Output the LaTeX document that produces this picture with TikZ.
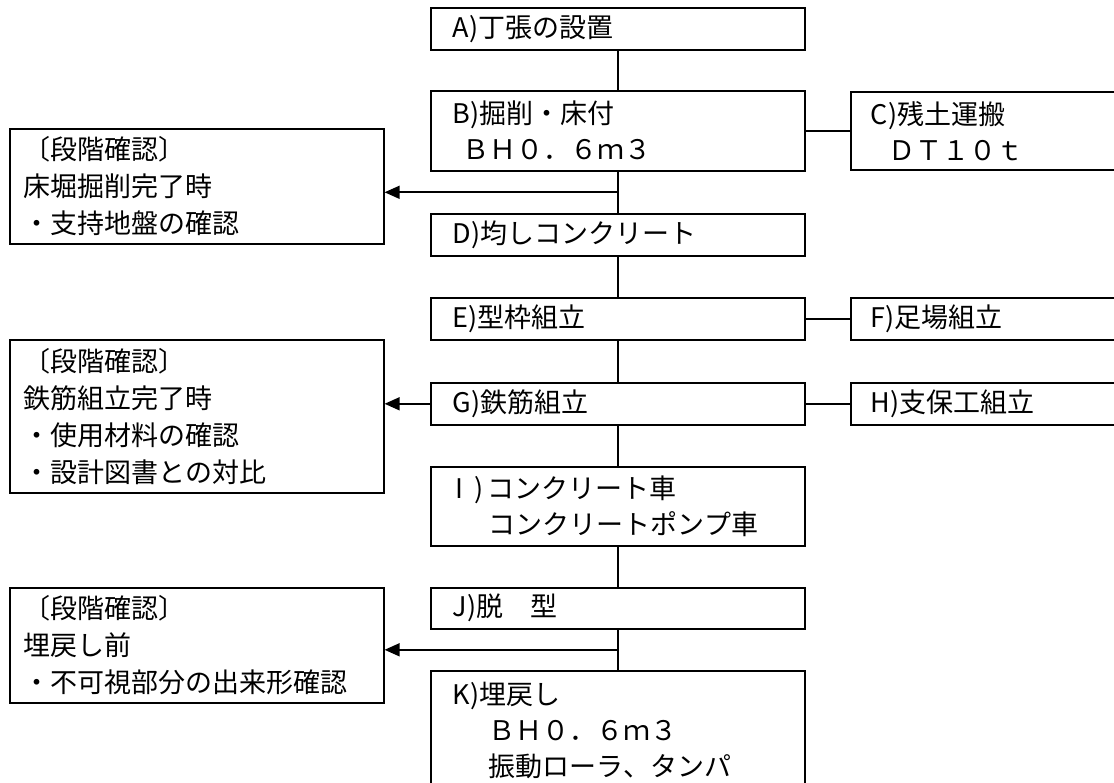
\documentclass[tikz,border=0pt]{standalone}
\usepackage{fontspec}
\setmainfont{Noto Sans CJK JP}
\usetikzlibrary{arrows.meta, calc}

\tikzset{
  link/.style={line width=1.6pt},
  stepbox/.style={draw, line width=1.6pt, anchor=north west, align=left,
    inner xsep=22pt, inner ysep=0pt, text width=330pt,
    font=\fontsize{27pt}{36pt}\selectfont},
  sidebox/.style={stepbox, inner xsep=20pt, text width=240pt},
  checkbox/.style={stepbox, inner xsep=14pt, text width=346pt, font=\fontsize{27pt}{37pt}\selectfont},
}

\begin{document}
\begin{tikzpicture}[x=1pt, y=-1pt, >={Triangle[length=15pt,width=13pt]}]
    \useasboundingbox (0,0) rectangle (1114,783);
    \clip (0,0) rectangle (1114,783);
    % main column
    \node[stepbox, minimum height=42pt] (A) at (430,7) {A)丁張の設置};
    \node[stepbox, minimum height=80pt] (B) at (430,90) {B)掘削・床付\\\hspace*{10pt}ＢＨ０．６ｍ３};
    \node[stepbox, minimum height=42pt] (D) at (430,213) {D)均しコンクリート};
    \node[stepbox, minimum height=42pt] (E) at (430,297) {E)型枠組立};
    \node[stepbox, minimum height=42pt] (G) at (430,382) {G)鉄筋組立};
    \node[stepbox, minimum height=79pt] (I) at (430,466) {\hspace*{3pt}I\hspace*{11pt})\hspace*{4pt}コンクリート車\\\hspace*{36pt}コンクリートポンプ車};
    \node[stepbox, minimum height=41pt] (J) at (430,587) {J)脱　型};
    \node[stepbox, minimum height=120pt] (K) at (430,670) {K)埋戻し\\\hspace*{36pt}ＢＨ０．６ｍ３\\\hspace*{36pt}振動ローラ、タンパ};
    % side works
    \node[sidebox, minimum height=78pt] (C) at (850,91) {C)残土運搬\\\hspace*{18pt}ＤＴ１０ｔ};
    \node[sidebox, minimum height=42pt] (F) at (850,297) {F)足場組立};
    \node[sidebox, minimum height=42pt] (H) at (850,382) {H)支保工組立};
    % stage checks
    \node[checkbox, minimum height=115pt] (L1) at (9,128) {〔段階確認〕\\床堀掘削完了時\\・支持地盤の確認};
    \node[checkbox, minimum height=153pt] (L2) at (9,339) {〔段階確認〕\\鉄筋組立完了時\\・使用材料の確認\\・設計図書との対比};
    \node[checkbox, minimum height=115pt] (L3) at (9,587) {〔段階確認〕\\埋戻し前\\・不可視部分の出来形確認};

    \draw[link] (A) -- (B);
    \draw[link] (B) -- (D);
    \draw[link] (D) -- (E);
    \draw[link] (E) -- (G);
    \draw[link] (G) -- (I);
    \draw[link] (I) -- (J);
    \draw[link] (J) -- (K);
    \draw[link] (B) -- (C);
    \draw[link] (E) -- (F);
    \draw[link] (G) -- (H);

    \coordinate (bd) at ($(B.south)!0.5!(D.north)$);
    \coordinate (jk) at ($(J.south)!0.5!(K.north)$);
    \draw[link,->] (bd) -- (bd -| L1.east);
    \draw[link,->] (G.west) -- (G.west -| L2.east);
    \draw[link,->] (jk) -- (jk -| L3.east);
\end{tikzpicture}
\end{document}
